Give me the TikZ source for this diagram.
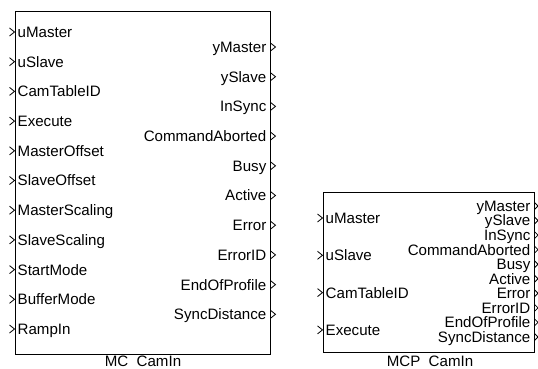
\documentclass[tikz,border=0pt]{standalone}
\usepackage{fontspec}
\setmainfont{Liberation Sans}
\usetikzlibrary{positioning}

\begin{document}
\begin{tikzpicture}[
  x=1pt, y=-1pt,
  block/.style = {draw, line width=1pt, anchor=north west, inner sep=0pt},
  inlab/.style = {font=\fontsize{15.1}{16}\selectfont, anchor=base west, inner sep=2.5pt},
  outlab/.style = {font=\fontsize{15.1}{16}\selectfont, anchor=base east, inner sep=2pt},
  title/.style = {font=\fontsize{15.1}{16}\selectfont, anchor=base, inner sep=0pt},
  chev/.style  = {line width=0.8pt}
]
\useasboundingbox (0,0) rectangle (538,369);

% MC_CamIn block
\node[block, minimum width=255pt, minimum height=343pt] (mc) at (15,11) {};
\foreach \name [count=\i] in {uMaster,uSlave,CamTableID,Execute,MasterOffset,
    SlaveOffset,MasterScaling,SlaveScaling,StartMode,BufferMode,RampIn} {
  \pgfmathsetmacro{\yy}{32+29.7*(\i-1)}
  \node[inlab] (mc-in-\i) at (15,\yy+5.4) {\name};
  \draw[chev] (9.5,\yy-4) -- (14.5,\yy) -- (9.5,\yy+4);
}
\foreach \name [count=\i] in {yMaster,ySlave,InSync,CommandAborted,Busy,
    Active,Error,ErrorID,EndOfProfile,SyncDistance} {
  \pgfmathsetmacro{\yy}{47+29.7*(\i-1)}
  \node[outlab] (mc-out-\i) at (268.5,\yy+5.4) {\name};
  \draw[chev] (270.5,\yy-4) -- (275.5,\yy) -- (270.5,\yy+4);
}
\node[title] (mc-name) at (143,366) {MC\ \ CamIn};

% MCP_CamIn block
\node[block, minimum width=211pt, minimum height=160pt] (mcp) at (323,192) {};
\foreach \name [count=\i] in {uMaster,uSlave,CamTableID,Execute} {
  \pgfmathsetmacro{\yy}{218+37.3*(\i-1)}
  \node[inlab] (mcp-in-\i) at (323,\yy+5.4) {\name};
  \draw[chev] (317.5,\yy-4) -- (322.5,\yy) -- (317.5,\yy+4);
}
\foreach \name [count=\i] in {yMaster,ySlave,InSync,CommandAborted,Busy,
    Active,Error,ErrorID,EndOfProfile,SyncDistance} {
  \pgfmathsetmacro{\yy}{206+14.55*(\i-1)}
  \node[outlab] (mcp-out-\i) at (532.5,\yy+5.4) {\name};
  \draw[chev] (534.5,\yy-3.5) -- (538,\yy) -- (534.5,\yy+3.5);
}
\node[title] (mcp-name) at (430,366) {MCP\ \ CamIn};
\end{tikzpicture}
\end{document}
